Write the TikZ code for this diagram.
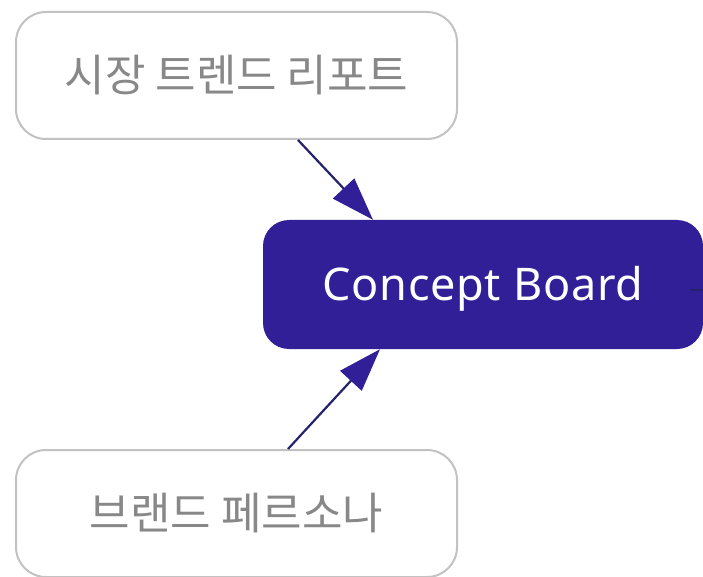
\documentclass[tikz,border=0pt]{standalone}
\usepackage{fontspec}
\setmainfont{Noto Sans}
\newfontfamily\kr{Noto Sans CJK KR}
\usetikzlibrary{arrows.meta}
\definecolor{cbfill}{HTML}{311F97}
\definecolor{edgecol}{HTML}{25236B}
\definecolor{grayborder}{HTML}{C2C2C2}
\definecolor{graytext}{HTML}{888888}
\tikzset{
  srcbox/.style={draw=grayborder, line width=2pt, fill=white, rounded corners=30pt,
    minimum width=441pt, minimum height=127pt, inner sep=0pt, text=graytext,
    font=\kr\fontsize{44}{48}\selectfont},
  mainbox/.style={fill=cbfill, rounded corners=26pt, minimum width=440pt, minimum height=129pt,
    inner sep=0pt, text=white, text height=34pt, text depth=3pt,
    font=\fontsize{45}{50}\selectfont\addfontfeatures{LetterSpace=1.5}},
  flow/.style={draw=edgecol, line width=2.2pt,
    -{Triangle[length=43pt,width=29pt,fill=cbfill,color=cbfill]}, shorten >=0pt},
  stub/.style={draw=edgecol, line width=1.6pt}
}
\begin{document}
\begin{tikzpicture}[x=1pt,y=-1pt]
\useasboundingbox (0,0) rectangle (703,577);
\node[srcbox] (top) at (236.5,75.5) {시장 트렌드 리포트};
\node[srcbox] (bot) at (236.5,513.5) {브랜드 페르소나};
\node[mainbox] (cb) at (483,284.5) {Concept Board};
\draw[flow] ([xshift=61.5pt]top.south) -- ([xshift=-110pt]cb.north);
\draw[flow] ([xshift=51.5pt]bot.north) -- ([xshift=-103pt]cb.south);
\coordinate (out) at (703,290);
\draw[stub] ([shift={(-13pt,-5.5pt)}]cb.east) -- (out);
\end{tikzpicture}
\end{document}
